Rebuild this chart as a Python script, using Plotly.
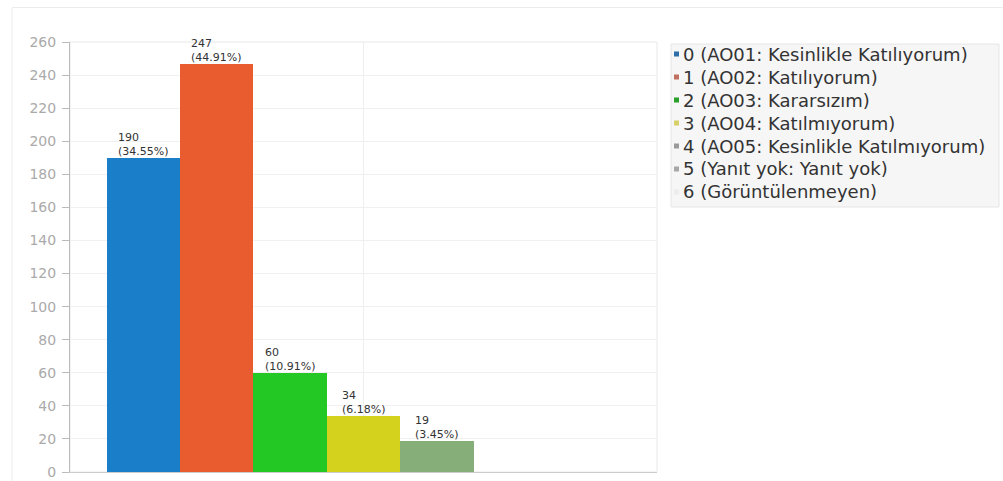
import plotly.graph_objects as go

categories = [0, 1, 2, 3, 4, 5, 6]
legend_names = [
    "0 (AO01: Kesinlikle Katılıyorum)",
    "1 (AO02: Katılıyorum)",
    "2 (AO03: Kararsızım)",
    "3 (AO04: Katılmıyorum)",
    "4 (AO05: Kesinlikle Katılmıyorum)",
    "5 (Yanıt yok: Yanıt yok)",
    "6 (Görüntülenmeyen)",
]
values = [190, 247, 60, 34, 19, 0, 0]
bar_colors = ["#1a7fc8", "#e85c2f", "#24c824", "#d5d21d", "#86ae79", "#b0b0b0", "#f3efe6"]
legend_colors = ["#2f6fa8", "#c0705e", "#2a9f2a", "#d6cf6a", "#9a9a9a", "#a8a8a8", "#ececec"]
y_ticks = list(range(0, 261, 20))

total = sum(values)

W, H = 1003, 481
plot_left, plot_right, plot_top, plot_bottom = 70, 657, 42, 472
L = plot_left
T = plot_top
R = W - plot_right
B = H - plot_bottom
pw, ph = W - L - R, H - T - B


def px(xp):
    return (xp - L) / pw


def py(yp):
    return (H - B - yp) / ph


fig = go.Figure()
fig.add_trace(go.Bar(
    x=categories, y=values, width=1,
    marker=dict(color=bar_colors, line=dict(width=0)),
    showlegend=False, hoverinfo="skip",
))

for c, v in zip(categories, values):
    if v > 0:
        fig.add_annotation(
            x=c, y=v, xref="x", yref="y",
            text=f"{v}<br>({v / total * 100:.2f}%)",
            showarrow=False, xanchor="center", yanchor="bottom", align="left",
            yshift=-2,
            font=dict(family="DejaVu Sans", size=11, color="#333333"),
        )

# outer panel border
fig.add_shape(type="line", xref="paper", yref="paper",
              x0=px(12), x1=px(1003), y0=py(7.5), y1=py(7.5),
              line=dict(color="#ececec", width=1))
fig.add_shape(type="line", xref="paper", yref="paper",
              x0=px(12), x1=px(12), y0=py(7.5), y1=py(481),
              line=dict(color="#ececec", width=1))
# plot frame
fig.add_shape(type="rect", xref="paper", yref="paper",
              x0=0, x1=1, y0=0, y1=1,
              line=dict(color="#e8e8e8", width=1), layer="below")

# legend box drawn manually
leg_left, leg_right, leg_top, leg_bottom = 671, 999, 44, 207
fig.add_shape(type="rect", xref="paper", yref="paper",
              x0=px(leg_left), x1=px(leg_right), y0=py(leg_bottom), y1=py(leg_top),
              fillcolor="#f6f6f6", line=dict(color="#e6e6e6", width=1))
row0, row_gap = 54, 23
for i, (name, col) in enumerate(zip(legend_names, legend_colors)):
    yc = row0 + i * row_gap
    fig.add_shape(type="rect", xref="paper", yref="paper",
                  x0=px(674), x1=px(679), y0=py(yc + 2.5), y1=py(yc - 2.5),
                  fillcolor=col, line=dict(width=0))
    fig.add_annotation(
        x=px(681), y=py(yc), xref="paper", yref="paper",
        text=name, showarrow=False, xanchor="left", yanchor="middle",
        font=dict(family="DejaVu Sans", size=18, color="#333333"),
    )

fig.update_layout(
    width=W, height=H,
    margin=dict(l=L, r=R, t=T, b=B, autoexpand=False),
    paper_bgcolor="white", plot_bgcolor="white",
    font=dict(family="DejaVu Sans", color="#333333"),
    bargap=0,
    showlegend=False,
    xaxis=dict(
        range=[-1, 7], tickvals=[3], showticklabels=False, ticks="",
        showgrid=True, gridcolor="#efefef", zeroline=False,
        showline=True, linecolor="#cccccc", linewidth=1,
        automargin=False,
    ),
    yaxis=dict(
        range=[0, 260], tickvals=y_ticks, ticks="outside", ticklen=7,
        tickcolor="#bbbbbb", showline=True, linecolor="#bbbbbb", linewidth=1,
        showgrid=True, gridcolor="#f0f0f0", zeroline=False,
        ticklabelstandoff=3, automargin=False, ticklabeloverflow="allow",
        tickfont=dict(family="DejaVu Sans", size=14, color="#aaaaaa"),
    ),
)

fig.write_html(
    "out.html",
    config={"displayModeBar": False},
    post_script="document.body.style.margin='0';document.body.style.overflow='hidden';",
)
